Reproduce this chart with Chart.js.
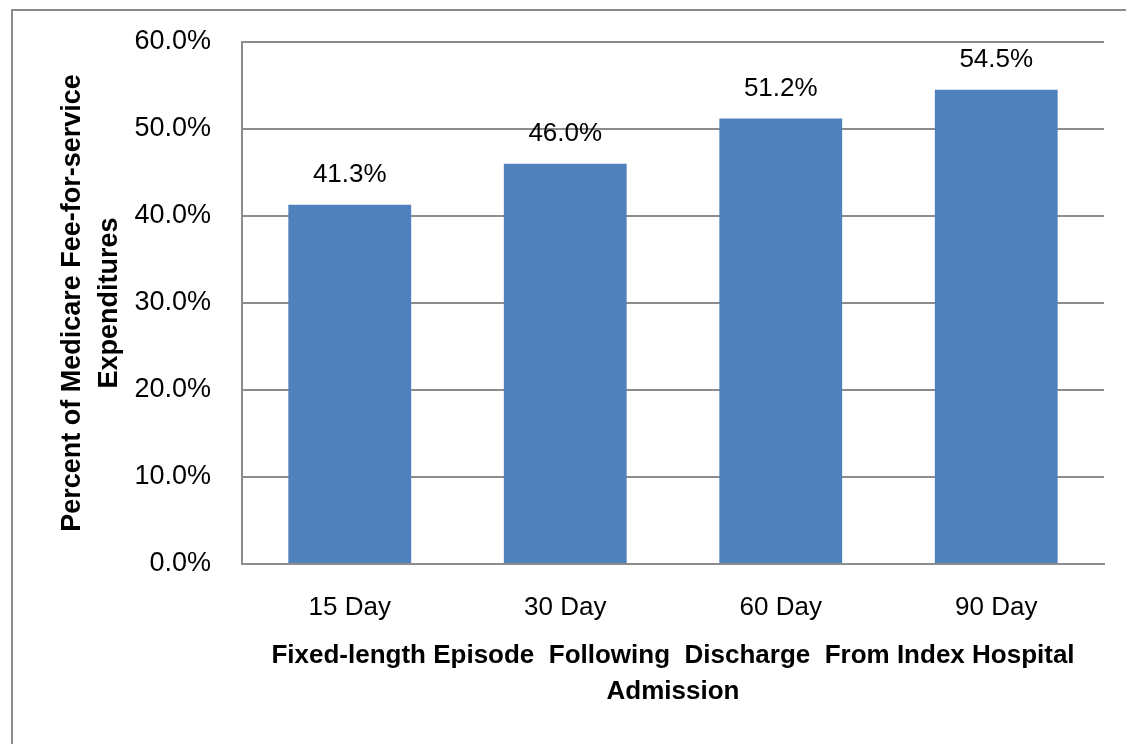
<!DOCTYPE html>
<html>
<head>
<meta charset="utf-8">
<script src="https://cdn.jsdelivr.net/npm/chart.js@4/dist/chart.umd.min.js"></script>
<style>
html,body{margin:0;padding:0;background:#fff;}
#wrap{position:relative;width:1126px;height:744px;}
</style>
</head>
<body>
<div id="wrap"><canvas id="c" width="1126" height="744"></canvas></div>
<script>
const categories = ['15 Day', '30 Day', '60 Day', '90 Day'];
const values = [41.3, 46.0, 51.2, 54.5];
const yTicks = [0, 10, 20, 30, 40, 50, 60];
const yTitle = ['Percent of Medicare Fee-for-service', 'Expenditures'];
const xTitle = ['Fixed-length Episode  Following  Discharge  From Index Hospital', 'Admission'];

const FONT = "'Liberation Sans', Arial, sans-serif";
const GRID = '#8c8c8c';

const borderPlugin = {
  id: 'outerBorder',
  beforeDraw(chart) {
    const ctx = chart.ctx;
    ctx.save();
    ctx.fillStyle = '#fff';
    ctx.fillRect(0, 0, chart.width, chart.height);
    ctx.strokeStyle = '#8c8c8c';
    ctx.lineWidth = 2;
    ctx.strokeRect(12, 10, chart.width + 20, chart.height + 20);
    ctx.restore();
  }
};

const labelPlugin = {
  id: 'barLabels',
  afterDatasetsDraw(chart) {
    const ctx = chart.ctx;
    const meta = chart.getDatasetMeta(0);
    ctx.save();
    ctx.font = '26px ' + FONT;
    ctx.fillStyle = '#000';
    ctx.textAlign = 'center';
    ctx.textBaseline = 'middle';
    meta.data.forEach((bar, i) => {
      ctx.fillText(values[i].toFixed(1) + '%', bar.x, bar.y - 30);
    });
    ctx.restore();
  }
};

new Chart(document.getElementById('c'), {
  type: 'bar',
  data: {
    labels: categories,
    datasets: [{
      data: values,
      backgroundColor: '#4f81bd',
      borderWidth: 0,
      categoryPercentage: 1.0,
      barPercentage: 0.57
    }]
  },
  options: {
    responsive: false,
    animation: false,
    devicePixelRatio: 1,
    layout: { padding: { left: 40, right: 22, top: 42, bottom: 0 } },
    plugins: { legend: { display: false }, tooltip: { enabled: false } },
    scales: {
      x: {
        grid: { display: false, drawTicks: false },
        border: { display: true, color: GRID, width: 2 },
        ticks: { color: '#000', font: { family: FONT, size: 26 }, padding: 28 },
        title: {
          display: true, text: xTitle, color: '#000',
          font: { family: FONT, size: 26, weight: 'bold', lineHeight: 1.38 },
          padding: { top: 0, bottom: 34 }
        },
        afterFit(scale) { scale.height = 180; }
      },
      y: {
        min: 0, max: 60,
        afterBuildTicks(scale) { scale.ticks = yTicks.map(v => ({ value: v })); },
        grid: { color: GRID, lineWidth: 2, drawTicks: false },
        border: { display: true, color: GRID, width: 2 },
        ticks: {
          color: '#000', font: { family: FONT, size: 27 }, padding: 31,
          callback: v => v.toFixed(1) + '%'
        },
        title: {
          display: true, text: yTitle, color: '#000',
          font: { family: FONT, size: 27, weight: 'bold', lineHeight: 1.37 },
          padding: { top: 14, bottom: 0 }
        },
        afterFit(scale) {
          scale.width = 202;
          scale.paddingTop = 0;
          scale.paddingBottom = 0;
        }
      }
    }
  },
  plugins: [borderPlugin, labelPlugin]
});
</script>
</body>
</html>
